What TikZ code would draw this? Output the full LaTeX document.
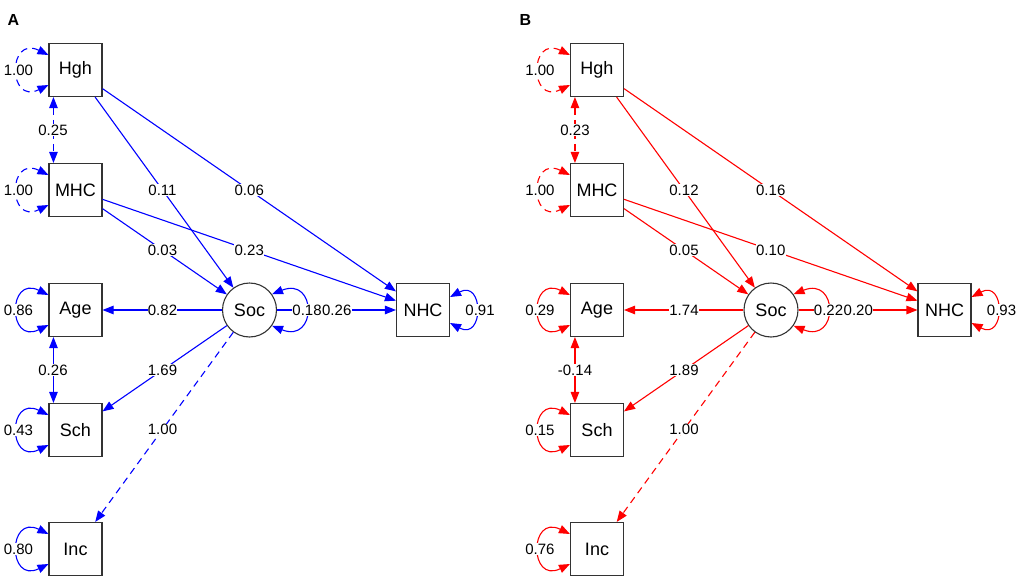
\documentclass[tikz,border=0pt]{standalone}
\usepackage{fontspec}
\setmainfont{Liberation Sans}
\usetikzlibrary{arrows.meta,calc}
\begin{document}
\begin{tikzpicture}[x=1pt,y=-1pt,
  obs/.style={draw=black!80, line width=1.1pt, minimum width=53pt, minimum height=53pt, inner sep=0pt, font=\fontsize{18}{18}\selectfont},
  lat/.style={draw=black!80, line width=1.1pt, circle, minimum size=54pt, inner sep=0pt, font=\fontsize{18}{18}\selectfont},
  lab/.style={fill=white, inner sep=0.3pt, font=\fontsize{15}{15}\selectfont},
  edge/.style={line width=1.1pt, -{Triangle[length=11pt,width=8.5pt]}},
  bedge/.style={line width=1.1pt, {Triangle[length=11pt,width=8.5pt]}-{Triangle[length=11pt,width=8.5pt]}},
  fixd/.style={dash pattern=on 7pt off 5pt},
  panel/.style={font=\fontsize{16}{16}\selectfont\bfseries}
]
\useasboundingbox (0,0) rectangle (1021,581);

% ---------------- Panel A ----------------
\node[panel] (labA) at (13.5,20) {A};
\node[obs] (aHgh) at (75.5,70) {Hgh};
\node[obs] (aMHC) at (75.5,190) {MHC};
\node[obs] (aAge) at (75.5,310) {Age};
\node[obs] (aSch) at (75.5,430) {Sch};
\node[obs] (aInc) at (75.5,549) {Inc};
\node[lat] (aSoc) at (249.5,310) {Soc};
\node[obs] (aNHC) at (423,310) {NHC};

\begin{scope}[blue]
\draw[edge] (aHgh) -- (aSoc);
\draw[edge] (aHgh) -- (aNHC);
\draw[edge] (aMHC) -- (aSoc);
\draw[edge] (aMHC) -- (aNHC);
\draw[edge] (aSoc) -- (aAge);
\draw[edge] (aSoc) -- (aSch);
\draw[edge,fixd] (aSoc) -- (aInc);
\draw[edge] (aSoc) -- (aNHC);
\draw[bedge,fixd] ($(aHgh.south west)+(5,0)$) -- ($(aMHC.north west)+(5,0)$);
\draw[bedge] ($(aAge.south west)+(5,0)$) -- ($(aSch.north west)+(5,0)$);
\draw[bedge,fixd] ($(aHgh.west)+(0,-15)$) .. controls +(-41,-20) and +(-41,20) .. ($(aHgh.west)+(0,15)$);
\draw[bedge,fixd] ($(aMHC.west)+(0,-15)$) .. controls +(-41,-20) and +(-41,20) .. ($(aMHC.west)+(0,15)$);
\draw[bedge] ($(aAge.west)+(0,-15)$) .. controls +(-41,-20) and +(-41,20) .. ($(aAge.west)+(0,15)$);
\draw[bedge] ($(aSch.west)+(0,-15)$) .. controls +(-41,-20) and +(-41,20) .. ($(aSch.west)+(0,15)$);
\draw[bedge] ($(aInc.west)+(0,-15)$) .. controls +(-41,-20) and +(-41,20) .. ($(aInc.west)+(0,15)$);
\draw[bedge] (aSoc.35) .. controls +(45,-18) and +(45,18) .. (aSoc.-35);
\draw[bedge] ($(aNHC.east)+(0,-13)$) .. controls +(34,-18) and +(34,18) .. ($(aNHC.east)+(0,13)$);
\end{scope}

\node[lab] at ($(aHgh)!0.5!(aSoc)$) {0.11};
\node[lab] at ($(aHgh)!0.5!(aNHC)$) {0.06};
\node[lab] at ($(aMHC)!0.5!(aSoc)$) {0.03};
\node[lab] at ($(aMHC)!0.5!(aNHC)$) {0.23};
\node[lab] at ($(aSoc)!0.5!(aAge)$) {0.82};
\node[lab] at ($(aSoc)!0.5!(aSch)$) {1.69};
\node[lab] at ($(aSoc)!0.5!(aInc)$) {1.00};
\node[lab] at ($(aSoc)!0.5!(aNHC)+(0.5,0)$) {0.26};
\node[lab] at ($(aHgh)!0.5!(aMHC)+(-22.5,0)$) {0.25};
\node[lab] at ($(aAge)!0.5!(aSch)+(-22.5,0)$) {0.26};
\node[lab] at ($(aHgh.west)+(-30,0)$) {1.00};
\node[lab] at ($(aMHC.west)+(-30,0)$) {1.00};
\node[lab] at ($(aAge.west)+(-30,0)$) {0.86};
\node[lab] at ($(aSch.west)+(-30,0)$) {0.43};
\node[lab] at ($(aInc.west)+(-30,0)$) {0.80};
\node[lab] at ($(aSoc.east)+(30,0)$) {0.18};
\node[lab] at ($(aNHC.east)+(30,0)$) {0.91};

% ---------------- Panel B ----------------
\node[panel] (labB) at (525.5,20) {B};
\node[obs] (bHgh) at (597,70) {Hgh};
\node[obs] (bMHC) at (597,190) {MHC};
\node[obs] (bAge) at (597,310) {Age};
\node[obs] (bSch) at (597,430) {Sch};
\node[obs] (bInc) at (597,549) {Inc};
\node[lat] (bSoc) at (771,310) {Soc};
\node[obs] (bNHC) at (944.5,310) {NHC};

\begin{scope}[red]
\draw[edge] (bHgh) -- (bSoc);
\draw[edge] (bHgh) -- (bNHC);
\draw[edge] (bMHC) -- (bSoc);
\draw[edge] (bMHC) -- (bNHC);
\draw[edge] (bSoc) -- (bAge);
\draw[edge] (bSoc) -- (bSch);
\draw[edge,fixd] (bSoc) -- (bInc);
\draw[edge] (bSoc) -- (bNHC);
\draw[bedge,fixd] ($(bHgh.south west)+(5,0)$) -- ($(bMHC.north west)+(5,0)$);
\draw[bedge] ($(bAge.south west)+(5,0)$) -- ($(bSch.north west)+(5,0)$);
\draw[bedge,fixd] ($(bHgh.west)+(0,-15)$) .. controls +(-41,-20) and +(-41,20) .. ($(bHgh.west)+(0,15)$);
\draw[bedge,fixd] ($(bMHC.west)+(0,-15)$) .. controls +(-41,-20) and +(-41,20) .. ($(bMHC.west)+(0,15)$);
\draw[bedge] ($(bAge.west)+(0,-15)$) .. controls +(-41,-20) and +(-41,20) .. ($(bAge.west)+(0,15)$);
\draw[bedge] ($(bSch.west)+(0,-15)$) .. controls +(-41,-20) and +(-41,20) .. ($(bSch.west)+(0,15)$);
\draw[bedge] ($(bInc.west)+(0,-15)$) .. controls +(-41,-20) and +(-41,20) .. ($(bInc.west)+(0,15)$);
\draw[bedge] (bSoc.35) .. controls +(45,-18) and +(45,18) .. (bSoc.-35);
\draw[bedge] ($(bNHC.east)+(0,-13)$) .. controls +(34,-18) and +(34,18) .. ($(bNHC.east)+(0,13)$);
\end{scope}

\node[lab] at ($(bHgh)!0.5!(bSoc)$) {0.12};
\node[lab] at ($(bHgh)!0.5!(bNHC)$) {0.16};
\node[lab] at ($(bMHC)!0.5!(bSoc)$) {0.05};
\node[lab] at ($(bMHC)!0.5!(bNHC)$) {0.10};
\node[lab] at ($(bSoc)!0.5!(bAge)$) {1.74};
\node[lab] at ($(bSoc)!0.5!(bSch)$) {1.89};
\node[lab] at ($(bSoc)!0.5!(bInc)$) {1.00};
\node[lab] at ($(bSoc)!0.5!(bNHC)+(0.5,0)$) {0.20};
\node[lab] at ($(bHgh)!0.5!(bMHC)+(-22,0)$) {0.23};
\node[lab] at ($(bAge)!0.5!(bSch)+(-22,0)$) {-0.14};
\node[lab] at ($(bHgh.west)+(-30,0)$) {1.00};
\node[lab] at ($(bMHC.west)+(-30,0)$) {1.00};
\node[lab] at ($(bAge.west)+(-30,0)$) {0.29};
\node[lab] at ($(bSch.west)+(-30,0)$) {0.15};
\node[lab] at ($(bInc.west)+(-30,0)$) {0.76};
\node[lab] at ($(bSoc.east)+(30,0)$) {0.22};
\node[lab] at ($(bNHC.east)+(30,0)$) {0.93};
\end{tikzpicture}
\end{document}
